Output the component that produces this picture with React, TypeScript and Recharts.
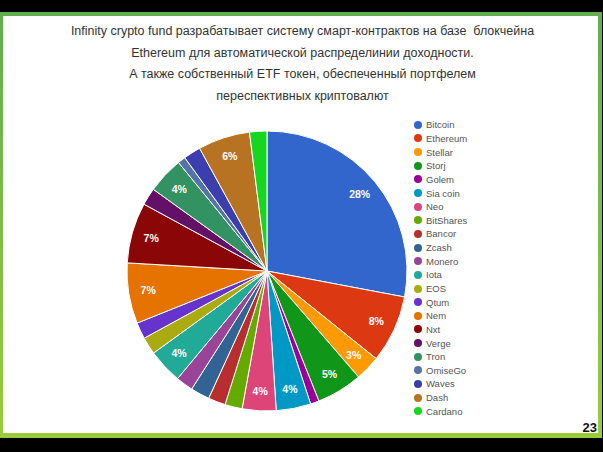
import React from 'react';
import { PieChart, Pie, Cell } from 'recharts';

const names = ['Bitcoin','Ethereum','Stellar','Storj','Golem','Sia coin','Neo','BitShares','Bancor','Zcash','Monero','Iota','EOS','Qtum','Nem','Nxt','Verge','Tron','OmiseGo','Waves','Dash','Cardano'];
const values = [28, 7.8, 2.9, 5.3, 1.0, 4.0, 3.9, 2.0, 2.0, 2.2, 2.0, 4.0, 2.0, 1.9, 7.0, 7.0, 2.0, 4.2, 0.9, 2.0, 6.0, 2.0];
const colors = ['#3366cc','#dc3912','#ff9900','#109618','#990099','#0099c6','#dd4477','#66aa00','#b82e2e','#316395','#994499','#22aa99','#aaaa11','#6633cc','#e67300','#8b0707','#651067','#329262','#5574a6','#3b3eac','#b77322','#16d620'];
const titleLines = [
  'Infinity crypto fund разрабатывает систему смарт-контрактов на базе  блокчейна',
  'Ethereum для автоматической распределинии доходности.',
  'А также собственный ETF токен, обеспеченный портфелем',
  'переспективных криптовалют',
];
const pageNumber = '23';

const data = names.map((n, i) => ({ name: n, value: values[i] }));
const RADIAN = Math.PI / 180;
const FONT = 'Arial, "Liberation Sans", sans-serif';

const renderLabel = (p: any) => {
  const { cx, cy, midAngle, outerRadius, percent } = p;
  if (percent < 0.025) return null;
  const r = outerRadius * 0.86;
  const x = cx + r * Math.cos(-midAngle * RADIAN);
  const y = cy + r * Math.sin(-midAngle * RADIAN);
  return (
    <text x={x} y={y} fill="#fff" textAnchor="middle" dominantBaseline="central"
      style={{ fontFamily: FONT, fontSize: 10.5, fontWeight: 700 }}>
      {`${Math.round(percent * 100)}%`}
    </text>
  );
};

export default function App() {
  return (
    <div style={{ position: 'fixed', left: 0, top: 0, width: 603, height: 452, background: '#000', overflow: 'hidden' }}>
      <div style={{ position: 'absolute', left: 0, top: 12, width: 602, height: 426, background: 'linear-gradient(to bottom, #63ad50, #9acb3c)' }} />
      <div style={{ position: 'absolute', left: 3, top: 16, width: 595, height: 417, background: '#fff' }} />
      <div style={{ position: 'absolute', left: 1, top: 21, width: 603, textAlign: 'center', fontFamily: FONT, fontSize: 12.5, color: '#333', lineHeight: '21.5px' }}>
        {titleLines.map((t, i) => <div key={i} style={{ whiteSpace: 'pre' }}>{t}</div>)}
      </div>
      <div style={{ position: 'absolute', right: 6, top: 420, fontFamily: FONT, fontSize: 13, fontWeight: 700, color: '#111' }}>{pageNumber}</div>
      <div style={{ position: 'absolute', left: 414, top: 118, fontFamily: FONT, fontSize: 9.5, color: '#555' }}>
        {names.map((n, i) => (
          <div key={n} style={{ height: 13.65, display: 'flex', alignItems: 'center' }}>
            <span style={{ display: 'inline-block', width: 8, height: 8, borderRadius: 4, background: colors[i], marginRight: 4 }} />
            <span>{n}</span>
          </div>
        ))}
      </div>
      <div style={{ position: 'absolute', left: 0, top: 0 }}>
        <PieChart width={603} height={452} margin={{ top: 0, right: 0, bottom: 0, left: 0 }}>
          <Pie data={data} dataKey="value" nameKey="name" cx={267} cy={271} outerRadius={140}
            startAngle={90} endAngle={-270} stroke="#fff" strokeWidth={1}
            label={renderLabel} labelLine={false} isAnimationActive={false}>
            {data.map((d, i) => <Cell key={d.name} fill={colors[i]} />)}
          </Pie>
        </PieChart>
      </div>
    </div>
  );
}
